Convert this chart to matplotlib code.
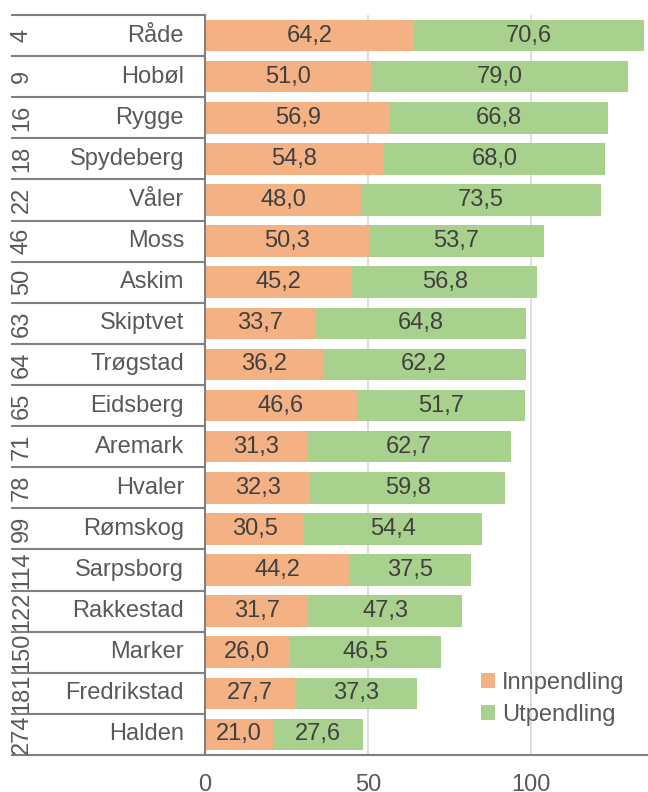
import matplotlib
matplotlib.use("Agg")
import matplotlib.pyplot as plt
from matplotlib.transforms import blended_transform_factory

plt.rcParams["font.family"] = ["Liberation Sans", "DejaVu Sans"]

ranks = [4, 9, 16, 18, 22, 46, 50, 63, 64, 65, 71, 78, 99, 114, 122, 150, 181, 274]
names = ["Råde", "Hobøl", "Rygge", "Spydeberg", "Våler", "Moss", "Askim",
         "Skiptvet", "Trøgstad", "Eidsberg", "Aremark", "Hvaler", "Rømskog",
         "Sarpsborg", "Rakkestad", "Marker", "Fredrikstad", "Halden"]
innpendling = [64.2, 51.0, 56.9, 54.8, 48.0, 50.3, 45.2, 33.7, 36.2, 46.6,
               31.3, 32.3, 30.5, 44.2, 31.7, 26.0, 27.7, 21.0]
utpendling = [70.6, 79.0, 66.8, 68.0, 73.5, 53.7, 56.8, 64.8, 62.2, 51.7,
              62.7, 59.8, 54.4, 37.5, 47.3, 46.5, 37.3, 27.6]
xticks = [0, 50, 100]

ORANGE = "#F4B183"
GREEN = "#A9D18E"
TEXT = "#404040"
LABEL = "#595959"
LINE = "#808080"
FS = 17

W, H = 648, 792
fig = plt.figure(figsize=(W / 100, H / 100), dpi=100)
ax_left, ax_right, ax_top, ax_bot = 205, 648, 15, 755
ax = fig.add_axes([ax_left / W, 1 - ax_bot / H, (ax_right - ax_left) / W, (ax_bot - ax_top) / H])

n = len(names)
ypos = list(range(n))
ax.barh(ypos, innpendling, height=0.77, color=ORANGE, label="Innpendling")
ax.barh(ypos, utpendling, left=innpendling, height=0.77, color=GREEN, label="Utpendling")

for y, a, b in zip(ypos, innpendling, utpendling):
    ax.text(a / 2, y, f"{a:.1f}".replace(".", ","), ha="center", va="center",
            fontsize=FS, color=TEXT)
    ax.text(a + b / 2, y, f"{b:.1f}".replace(".", ","), ha="center", va="center",
            fontsize=FS, color=TEXT)

ax.set_xlim(0, 136)
ax.set_ylim(n - 0.5, -0.5)
ax.set_xticks(xticks)
ax.set_yticks([])
ax.tick_params(axis="x", length=0, pad=14, labelsize=FS, labelcolor=LABEL)
ax.grid(axis="x", color="#D9D9D9", linewidth=1.2)
ax.set_axisbelow(True)

for s in ["top", "right", "bottom"]:
    ax.spines[s].set_visible(False)
ax.spines["left"].set_color(LINE)
ax.spines["left"].set_linewidth(1.5)

# table on the left: ranks and names with row separators
trans = blended_transform_factory(ax.transAxes, ax.transData)
x0 = (12 - ax_left) / (ax_right - ax_left)
x_rank = (22 - ax_left) / (ax_right - ax_left)
x_name = (184 - ax_left) / (ax_right - ax_left)
for y in [i - 0.5 for i in range(n)]:
    ax.plot([x0, 0], [y, y], transform=trans, color=LINE, lw=1.5, clip_on=False)
ax.plot([x0, 1], [n - 0.5, n - 0.5], transform=trans, color=LINE, lw=1.5, clip_on=False)

for y, r, name in zip(ypos, ranks, names):
    ax.text(x_name, y, name, transform=trans, ha="right", va="center",
            fontsize=FS, color=LABEL)
    ax.text(x_rank, y, str(r), transform=trans, ha="center", va="center",
            rotation=90, fontsize=FS, color=LABEL)

leg = ax.legend(loc="center", bbox_to_anchor=(553 / W, 1 - 699 / H),
                bbox_transform=fig.transFigure, frameon=False, fontsize=FS,
                handlelength=0.6, handleheight=0.6, handletextpad=0.3,
                labelspacing=0.45)
for t in leg.get_texts():
    t.set_color(LABEL)

fig.savefig("out.png", dpi=100)
